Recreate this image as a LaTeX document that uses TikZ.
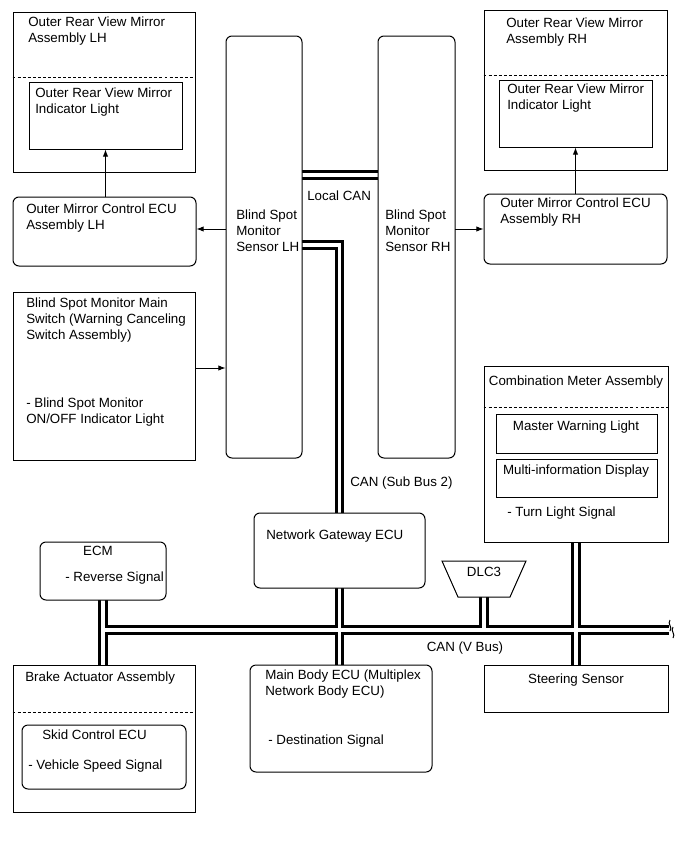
\documentclass[tikz,border=0pt]{standalone}
\usepackage{fontspec}
\setmainfont{Liberation Sans}
\usetikzlibrary{arrows.meta,fit}
\tikzset{
  box/.style={draw, line width=0.75pt, fill=white, inner sep=0pt},
  rbox/.style={box, rounded corners=4.5pt},
  txt/.style={inner sep=0pt, anchor=north west, align=left, font=\fontsize{10}{12}\selectfont},
  ctxt/.style={inner sep=0pt, anchor=base, font=\fontsize{10}{12}\selectfont},
  arr/.style={line width=0.75pt, -{Latex[length=5.5pt,width=4pt]}},
  dashline/.style={line width=0.75pt, dash pattern=on 2.2pt off 1.6pt},
  busO/.style={draw=black, line width=6.9pt},
  busI/.style={draw=white, line width=2.7pt},
}
\newcommand\mybuses[1]{%
  \draw[#1] (sLH.east |- 0,175) -- (sRH.west |- 0,175);
  \draw[#1] (sLH.east |- 0,245) -| (gw.north);
  \draw[#1] (ecm.south) -- (ecm.south |- brk.north);
  \draw[#1] (ecm.south |- 0,630) -- (vbR);
  \draw[#1] (gw.south) -- (gw.south |- mb.north);
  \draw[#1] (dlcB) -- (dlcB |- 0,630);
  \draw[#1] (cm.south) -- (cm.south |- ss.north);
}
\begin{document}
\begin{tikzpicture}[x=0.75pt,y=-0.75pt]
\useasboundingbox (0,0) rectangle (690,853);
\fill[white] (0,0) rectangle (690,853);

% ---- box outlines (positions only, drawn later) ----
\path
  node[fit={(13,12) (195,172)}, inner sep=0pt] (mLH) {}
  node[fit={(29,82) (182,149)}, inner sep=0pt] (mLHin) {}
  node[fit={(13,197) (196,266)}, inner sep=0pt] (eLH) {}
  node[fit={(226,36) (302,458)}, inner sep=0pt] (sLH) {}
  node[fit={(378,36) (455,458)}, inner sep=0pt] (sRH) {}
  node[fit={(484,10) (667,170)}, inner sep=0pt] (mRH) {}
  node[fit={(499,80) (652,147)}, inner sep=0pt] (mRHin) {}
  node[fit={(484,194) (667,264)}, inner sep=0pt] (eRH) {}
  node[fit={(13,292) (195,460)}, inner sep=0pt] (sw) {}
  node[fit={(484,366) (668,542)}, inner sep=0pt] (cm) {}
  node[fit={(496,414) (657,453)}, inner sep=0pt] (mwl) {}
  node[fit={(496,459) (657,497)}, inner sep=0pt] (mid) {}
  node[fit={(254,513) (425,588)}, inner sep=0pt] (gw) {}
  node[fit={(40,542) (166,600)}, inner sep=0pt] (ecm) {}
  node[fit={(13,665) (195,812)}, inner sep=0pt] (brk) {}
  node[fit={(22,725) (186,789)}, inner sep=0pt] (skid) {}
  node[fit={(250,665) (432,772)}, inner sep=0pt] (mb) {}
  node[fit={(484,665) (668,712)}, inner sep=0pt] (ss) {};
\coordinate (dlcB) at (484,597);
\coordinate (vbR) at (669,630);

% ---- CAN buses ----
\mybuses{busO}
\mybuses{busI}
% bus break mark
\draw[line width=0.75pt] (670,620) .. controls (667,624) and (673,627) .. (670,631);
\draw[line width=0.75pt] (673,627) .. controls (670,631) and (676,634) .. (673,638);

% ---- boxes ----
\node[box, fit={(13,12) (195,172)}] (mLHb) {};
\draw[dashline] (mLHb.west |- 0,77) -- (mLHb.east |- 0,77);
\node[box, fit={(29,82) (182,149)}] (mLHinb) {};
\node[rbox, fit={(13,197) (196,266)}] (eLHb) {};
\node[rbox, fit={(226,36) (302,458)}] (sLHb) {};
\node[rbox, fit={(378,36) (455,458)}] (sRHb) {};
\node[box, fit={(484,10) (667,170)}] (mRHb) {};
\draw[dashline] (mRHb.west |- 0,75) -- (mRHb.east |- 0,75);
\node[box, fit={(499,80) (652,147)}] (mRHinb) {};
\node[rbox, fit={(484,194) (667,264)}] (eRHb) {};
\node[box, fit={(13,292) (195,460)}] (swb) {};
\node[box, fit={(484,366) (668,542)}] (cmb) {};
\draw[dashline] (cmb.west |- 0,407) -- (cmb.east |- 0,407);
\node[box, fit={(496,414) (657,453)}] (mwlb) {};
\node[box, fit={(496,459) (657,497)}] (midb) {};
\node[rbox, fit={(254,513) (425,588)}] (gwb) {};
\node[rbox, fit={(40,542) (166,600)}] (ecmb) {};
\draw[line width=0.75pt, fill=white] (442,561) -- (526,561) -- (510,597) -- (458,597) -- cycle;
\node[box, fit={(13,665) (195,812)}] (brkb) {};
\draw[dashline] (brkb.west |- 0,712) -- (brkb.east |- 0,712);
\node[rbox, fit={(22,725) (186,789)}] (skidb) {};
\node[rbox, fit={(250,665) (432,772)}] (mbb) {};
\node[box, fit={(484,665) (668,712)}] (ssb) {};

% ---- arrows ----
\draw[arr] (mLHin.south |- eLH.north) -- (mLHin.south);
\draw[arr] (mRHin.south |- eRH.north) -- (mRHin.south);
\draw[arr] (sLH.west |- 0,229) -- (eLH.east |- 0,229);
\draw[arr] (sRH.east |- 0,229) -- (eRH.west |- 0,229);
\draw[arr] (sw.east |- 0,368) -- (sLH.west |- 0,368);

% ---- texts ----
\node[txt] (t1) at (28,17) {Outer Rear View Mirror\\Assembly LH};
\node[txt] (t2) at (35,88) {Outer Rear View Mirror\\Indicator Light};
\node[txt] (t3) at (26,204) {Outer Mirror Control ECU\\Assembly LH};
\node[txt] (t4) at (236,210) {Blind Spot\\Monitor\\Sensor LH};
\node[txt] (t5) at (385,210) {Blind Spot\\Monitor\\Sensor RH};
\node[txt] (t6) at (506,18) {Outer Rear View Mirror\\Assembly RH};
\node[txt] (t7) at (507,84) {Outer Rear View Mirror\\Indicator Light};
\node[txt] (t8) at (500,198) {Outer Mirror Control ECU\\Assembly RH};
\node[txt] (t9) at (307,191) {Local CAN};
\node[txt] (t10) at (26,298) {Blind Spot Monitor Main\\Switch (Warning Canceling\\Switch Assembly)};
\node[txt] (t11) at (26,398) {- Blind Spot Monitor\\ON/OFF Indicator Light};
\node[ctxt] (t12) at (576,385) {Combination Meter Assembly};
\node[ctxt] (t13) at (576,430) {Master Warning Light};
\node[ctxt] (t14) at (576,474) {Multi-information Display};
\node[txt] (t15) at (507,507) {- Turn Light Signal};
\node[txt] (t16) at (350,477) {CAN (Sub Bus 2)};
\node[txt] (t17) at (266,530) {Network Gateway ECU};
\node[ctxt] (t18) at (98,555) {ECM};
\node[txt] (t19) at (65,572) {- Reverse Signal};
\node[ctxt] (t20) at (484,576) {DLC3};
\node[ctxt] (t21) at (465,651) {CAN (V Bus)};
\node[ctxt] (t22) at (576,683) {Steering Sensor};
\node[txt] (t23) at (25,672) {Brake Actuator Assembly};
\node[txt] (t24) at (42,730) {Skid Control ECU};
\node[txt] (t25) at (28,760) {- Vehicle Speed Signal};
\node[txt] (t26) at (265,670) {Main Body ECU (Multiplex\\Network Body ECU)};
\node[txt] (t27) at (268,735) {- Destination Signal};
\end{tikzpicture}
\end{document}
